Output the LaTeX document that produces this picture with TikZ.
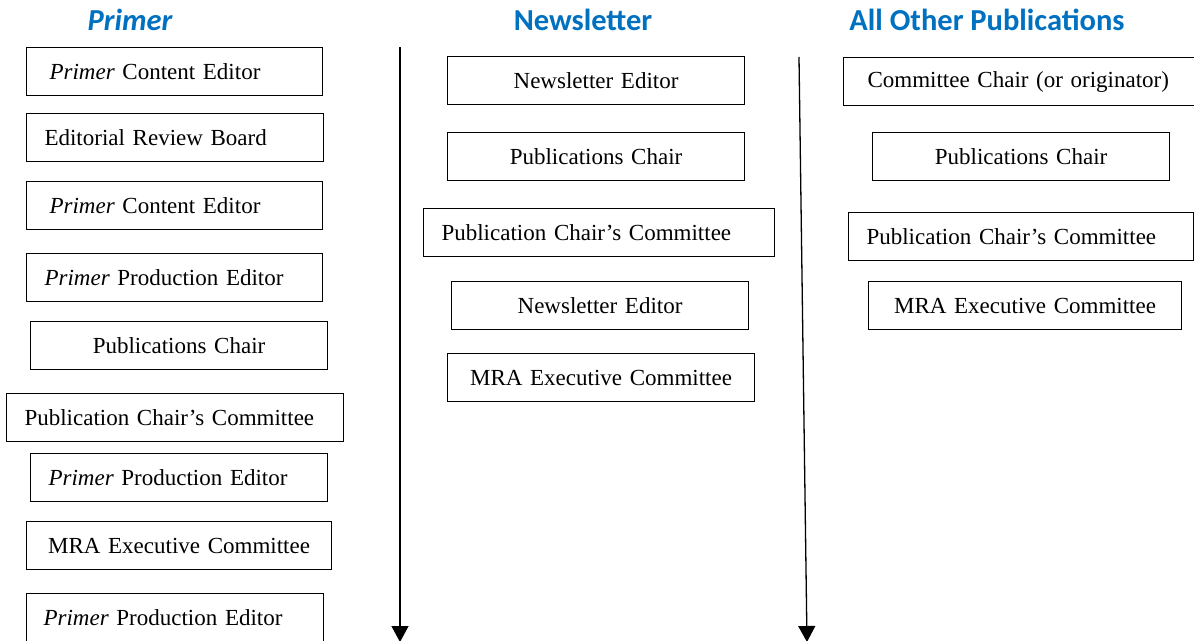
\documentclass[tikz,border=0pt]{standalone}
\usepackage{fontspec}
\setmainfont{Liberation Serif}
\newfontfamily\headfont{Carlito}
\usetikzlibrary{arrows.meta}
\definecolor{headblue}{HTML}{0070C0}
\begin{document}
\begin{tikzpicture}[x=1pt,y=-1pt,
    stage/.style={draw, line width=1.1pt, anchor=north west, minimum height=48pt,
      inner xsep=18pt, inner ysep=0pt, font=\fontsize{23}{27}\selectfont},
    colhead/.style={anchor=base, text=headblue, font=\headfont\bfseries\fontsize{30.5}{34}\selectfont},
    flow/.style={line width=1.3pt, -{Triangle[width=17pt,length=16pt]}}]
      \useasboundingbox (0,0) rectangle (1194,640);
      %%%%%%%%%%%%%%%%%%%%%%%%%%%%%%%%%%%%%%%%%%%%%%%
      \node[colhead] at (130,30) (hprimer) {\itshape Primer};
      \node[colhead] at (583,30) (hnews)   {Newsletter};
      \node[colhead] at (987,30) (hother)  {All Other Publications};
      %%%%%%%%%%%%%%%%%%%%%%%%%%%%%%%%%%%%%%%%%%%%%%%
      \node[stage, text width=250pt, align=left, inner xsep=23pt] at (26,47)  (p1) {\emph{Primer} Content Editor};
      \node[stage, text width=261pt, align=left]                  at (26,113) (p2) {Editorial Review Board};
      \node[stage, text width=250pt, align=left, inner xsep=23pt] at (26,181) (p3) {\emph{Primer} Content Editor};
      \node[stage, text width=260pt, align=left]                  at (26,253) (p4) {\emph{Primer} Production Editor};
      \node[stage, text width=261pt, align=center]                at (30,321) (p5) {Publications Chair};
      \node[stage, text width=301pt, align=left]                  at (6,393)  (p6) {Publication Chair’s Committee};
      \node[stage, text width=261pt, align=left]                  at (30,453) (p7) {\emph{Primer} Production Editor};
      \node[stage, text width=269pt, align=center]                at (26,521) (p8) {MRA Executive Committee};
      \node[stage, text width=263pt, align=left, inner xsep=17pt] at (26,593) (p9) {\emph{Primer} Production Editor};
      %%%%%%%%%%%%%%%%%%%%%%%%%%%%%%%%%%%%%%%%%%%%%%%
      \coordinate (ntop) at (400,47);
      \coordinate (nbot) at (400,642);
      \draw[flow] (ntop) -- (nbot);
      \node[stage, text width=261pt, align=center] at (447,56)  (n1) {Newsletter Editor};
      \node[stage, text width=261pt, align=center] at (447,132) (n2) {Publications Chair};
      \node[stage, text width=315pt, align=left]   at (423,208) (n3) {Publication Chair’s Committee};
      \node[stage, text width=261pt, align=center] at (451,281) (n4) {Newsletter Editor};
      \node[stage, text width=271pt, align=center] at (447,353) (n5) {MRA Executive Committee};
      %%%%%%%%%%%%%%%%%%%%%%%%%%%%%%%%%%%%%%%%%%%%%%%
      \coordinate (otop) at (799,57);
      \coordinate (obot) at (807,642);
      \draw[flow] (otop) -- (obot);
      \node[stage, text width=314pt, align=left, inner xsep=24pt] at (843,57)  (o1) {Committee Chair (or originator)};
      \node[stage, text width=261pt, align=center]                at (872,132) (o2) {Publications Chair};
      \node[stage, text width=309pt, align=left]                  at (848,212) (o3) {Publication Chair’s Committee};
      \node[stage, text width=277pt, align=center]                at (868,281) (o4) {MRA Executive Committee};
      %%%%%%%%%%%%%%%%%%%%%%%%%%%%%%%%%%%%%%%%%%%%%%%
\end{tikzpicture}
\end{document}
